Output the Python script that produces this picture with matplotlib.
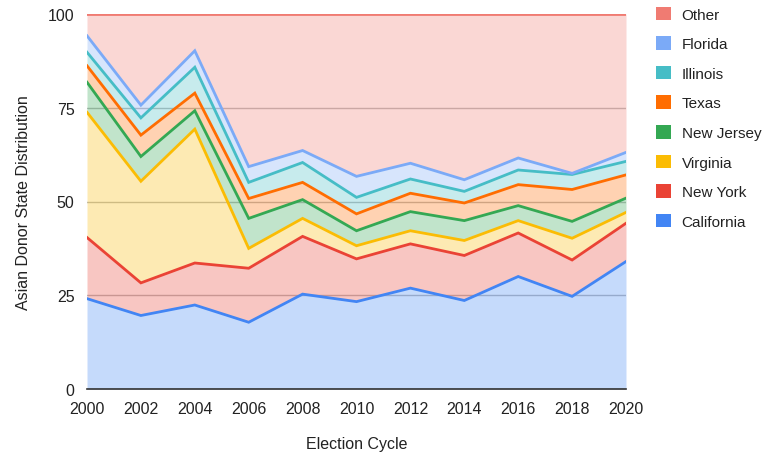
import matplotlib
matplotlib.use("Agg")
import matplotlib.pyplot as plt
import numpy as np
from matplotlib.patches import Patch

plt.rcParams["font.family"] = ["Liberation Sans", "DejaVu Sans"]

years = [2000, 2002, 2004, 2006, 2008, 2010, 2012, 2014, 2016, 2018, 2020]
california = [24.1, 19.6, 22.4, 17.8, 25.3, 23.3, 26.9, 23.6, 30.0, 24.7, 34.0]
new_york = [16.3, 8.7, 11.2, 14.4, 15.4, 11.4, 11.8, 12.0, 11.6, 9.7, 10.2]
virginia = [33.4, 27.1, 35.7, 5.3, 4.8, 3.5, 3.5, 4.0, 3.3, 5.8, 2.9]
new_jersey = [8.0, 6.6, 4.9, 8.0, 5.0, 4.0, 5.1, 5.3, 4.0, 4.5, 3.8]
texas = [4.4, 5.7, 4.7, 5.3, 4.6, 4.5, 4.9, 4.7, 5.6, 8.5, 6.2]
illinois = [3.6, 4.6, 6.9, 4.3, 5.3, 4.4, 3.8, 3.1, 3.9, 4.0, 3.6]
florida = [4.4, 3.4, 4.4, 4.2, 3.2, 5.6, 4.2, 3.1, 3.2, 0.3, 2.4]
other = [100 - sum(v) for v in zip(california, new_york, virginia, new_jersey,
                                   texas, illinois, florida)]

series = [
    ("California", california, "#4285F4"),
    ("New York", new_york, "#EA4335"),
    ("Virginia", virginia, "#FBBC04"),
    ("New Jersey", new_jersey, "#34A853"),
    ("Texas", texas, "#FF6D01"),
    ("Illinois", illinois, "#46BDC6"),
    ("Florida", florida, "#7BAAF7"),
    ("Other", other, "#F07B72"),
]

fig = plt.figure(figsize=(7.66, 4.56), dpi=100)
ax = fig.add_axes([87 / 766, 1 - 390 / 456, (626 - 87) / 766, (390 - 15) / 456])

x = np.array(years)
base = np.zeros(len(years))
tops = []
for name, vals, col in series:
    top = base + np.array(vals)
    ax.fill_between(x, base, top, color=col, alpha=0.3, lw=0, zorder=2)
    tops.append((top, col))
    base = top
for top, col in tops:
    ax.plot(x, top, color=col, lw=2, zorder=3, solid_joinstyle="miter")

ax.set_xlim(2000, 2020)
ax.set_ylim(0, 100)
ax.set_xticks(years)
ax.set_yticks([0, 25, 50, 75, 100])
ax.yaxis.grid(True, color="#bbbbbb", lw=1, zorder=1)
ax.set_axisbelow(True)
for sp in ("top", "right", "left"):
    ax.spines[sp].set_visible(False)
ax.spines["bottom"].set_color("#333333")
ax.spines["bottom"].set_linewidth(1.2)
ax.spines["bottom"].set_zorder(4)
ax.tick_params(axis="both", length=0, labelsize=11.5, colors="#222222")
ax.tick_params(axis="x", pad=9)
ax.tick_params(axis="y", pad=9)
ax.set_xlabel("Election Cycle", fontsize=11.5, color="#222222", labelpad=14)
ax.set_ylabel("Asian Donor State Distribution", fontsize=11.5, color="#222222",
              labelpad=12)

handles = [Patch(facecolor=col, edgecolor="none", label=name)
           for name, _, col in series[::-1]]
fig.legend(handles=handles, loc="upper left",
           bbox_to_anchor=(648 / 766, 1 - 0 / 456), borderpad=0,
           frameon=False, fontsize=11, handlelength=1.0, handleheight=1.0,
           handletextpad=0.7, labelspacing=0.95, labelcolor="#222222")

fig.savefig("out.png", dpi=100)
